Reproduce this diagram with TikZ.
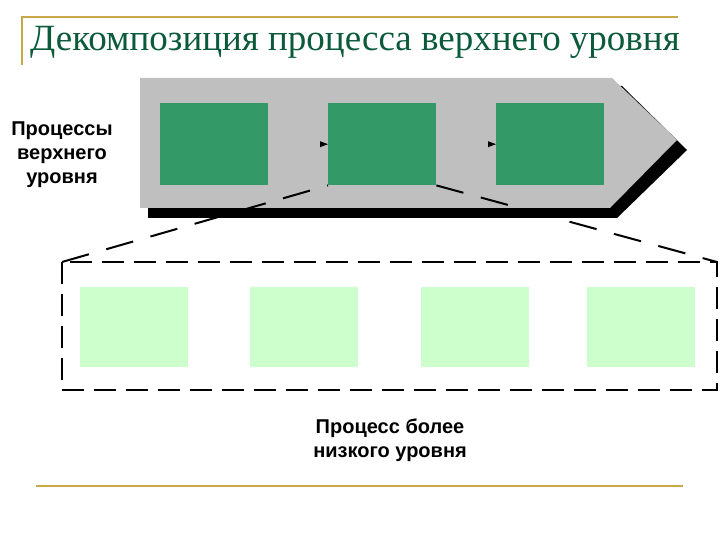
\documentclass[tikz,border=0pt]{standalone}
\usepackage{fontspec}
\setmainfont{Liberation Serif}
\newfontfamily\lsans{Liberation Sans}
\definecolor{tgreen}{HTML}{339966}
\definecolor{lgreen}{HTML}{CCFFCC}
\definecolor{ttl}{HTML}{0B5A3A}
\definecolor{rule}{HTML}{C8A848}
\begin{document}
\begin{tikzpicture}[x=1pt,y=-1pt,
  gbox/.style={fill=tgreen,draw=none},
  lbox/.style={fill=lgreen,draw=none},
  dl/.style={line width=2.2pt,dash pattern=on 22pt off 10pt},
  lbl/.style={font=\lsans\bfseries\fontsize{20}{24}\selectfont,align=center}]
\useasboundingbox (0,0) rectangle (720,540);
% title
\draw[rule,line width=1.2pt] (22,65) -- (22,17) -- (678,17);
\node[anchor=base west,text=ttl,font=\fontsize{37}{42}\selectfont,inner sep=0] (title) at (30,51) {Декомпозиция процесса верхнего уровня};
% arrow shape
\fill[black] (148,86) -- (622,86) -- (687,150) -- (617,218) -- (148,218) -- cycle;
\fill[gray!50] (140,78) -- (612,78) -- (677,140) -- (610,208) -- (140,208) -- cycle;
\node[gbox,minimum width=108pt,minimum height=82pt,anchor=north west] (g1) at (160,103) {};
\node[gbox,minimum width=108pt,minimum height=82pt,anchor=north west] (g2) at (328,103) {};
\node[gbox,minimum width=108pt,minimum height=82pt,anchor=north west] (g3) at (496,103) {};
\fill (g2.west) -- ++(-8,-3) -- ++(0,6) -- cycle;
\fill (g3.west) -- ++(-8,-3) -- ++(0,6) -- cycle;
% lower box
\coordinate (bl) at (62,262);
\coordinate (br) at (717,262);
\draw[dl] (62,262) rectangle (717,390);
\draw[line width=2pt,dash pattern=on 28pt off 18pt] (bl) -- (g2.south west);
\draw[line width=2pt,dash pattern=on 28pt off 18pt] (g2.south east) -- (br);
\foreach \i/\x in {1/80,2/250,3/421,4/587}
  \node[lbox,minimum width=108pt,minimum height=80pt,anchor=north west] (l\i) at (\x,287) {};
\node[lbl] (up) at (62,155) {Процессы\\верхнего\\уровня};
\node[lbl] (low) at (390,440) {Процесс более\\низкого уровня};
\draw[rule,line width=1.2pt] (36,486) -- (683,486);
\end{tikzpicture}
\end{document}
